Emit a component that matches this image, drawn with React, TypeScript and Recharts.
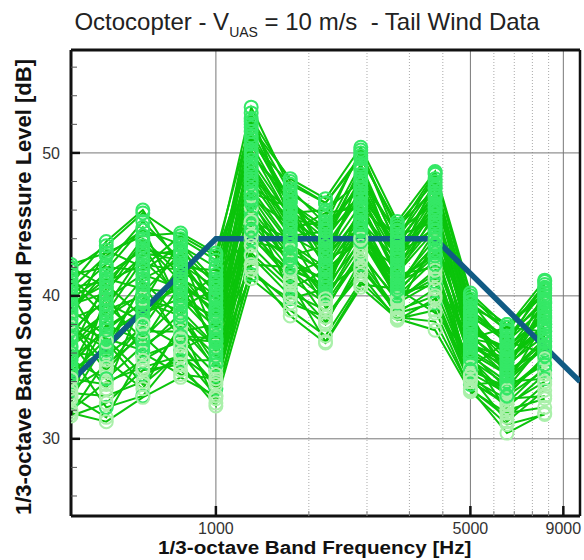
import { LineChart, Line, XAxis, YAxis, ReferenceLine } from 'recharts';

// 1/3-octave band centre frequencies [Hz]
const bands = [400, 500, 630, 800, 1000, 1250, 1600, 2000, 2500, 3150, 4000, 5000, 6300, 8000];

// band SPL [dB] for each tail-wind run
const run01 = [41.8, 43.5, 45.8, 44.0, 42.5, 53.2, 47.5, 45.0, 50.2, 44.0, 48.5, 40.0, 37.5, 40.8];
const run02 = [40.5, 42.8, 44.6, 43.6, 41.0, 52.4, 48.0, 46.5, 49.6, 45.0, 48.0, 39.2, 38.0, 40.2];
const run03 = [39.8, 41.5, 43.2, 42.8, 40.2, 51.5, 46.6, 44.2, 48.8, 43.6, 47.2, 38.5, 37.2, 39.5];
const run04 = [42.0, 40.6, 44.0, 41.5, 38.5, 50.6, 45.8, 46.0, 48.0, 44.5, 46.5, 39.6, 36.5, 41.0];
const run05 = [38.6, 43.2, 42.0, 44.2, 42.8, 49.8, 47.0, 43.0, 47.5, 42.8, 45.8, 37.8, 36.0, 38.8];
const run06 = [37.5, 39.8, 41.5, 40.5, 39.5, 49.0, 44.8, 45.2, 46.8, 44.0, 47.8, 38.0, 35.5, 38.0];
const run07 = [41.0, 38.5, 40.2, 43.0, 37.0, 48.2, 46.0, 42.0, 46.0, 41.8, 45.0, 37.0, 37.8, 37.5];
const run08 = [36.2, 41.0, 43.5, 39.5, 41.5, 47.5, 43.8, 44.0, 47.2, 43.2, 44.2, 36.5, 35.0, 39.0];
const run09 = [39.0, 37.2, 39.0, 41.8, 36.0, 46.8, 45.0, 41.0, 45.2, 42.5, 46.8, 36.0, 34.5, 37.0];
const run10 = [35.0, 39.5, 38.2, 42.2, 40.6, 46.0, 42.8, 43.5, 44.6, 40.8, 43.5, 38.8, 34.2, 36.5];
const run11 = [40.2, 36.0, 41.0, 38.5, 34.8, 45.2, 44.0, 40.0, 46.5, 41.2, 42.8, 35.5, 33.8, 38.2];
const run12 = [33.8, 38.0, 36.8, 40.8, 39.0, 44.5, 41.5, 42.5, 43.8, 42.0, 45.5, 35.0, 36.8, 36.0];
const run13 = [37.8, 34.8, 37.5, 37.5, 38.0, 43.8, 43.2, 39.2, 42.8, 39.8, 41.5, 34.6, 33.2, 35.5];
const run14 = [32.5, 40.2, 35.8, 36.8, 33.5, 43.0, 40.5, 41.8, 44.0, 40.2, 40.8, 37.2, 35.0, 37.8];
const run15 = [36.8, 33.5, 39.8, 39.0, 36.5, 42.2, 42.0, 38.5, 41.8, 39.2, 43.8, 34.0, 32.5, 35.0];
const run16 = [34.5, 37.0, 34.5, 35.5, 35.5, 41.5, 39.8, 40.5, 42.2, 38.8, 39.5, 33.8, 34.0, 34.2];
const run17 = [31.8, 35.5, 33.5, 38.0, 32.5, 41.2, 39.0, 37.2, 41.0, 38.5, 38.2, 33.5, 31.5, 33.8];
const run18 = [33.0, 31.5, 36.0, 34.5, 34.2, 44.8, 41.0, 36.8, 40.8, 40.5, 38.8, 35.8, 32.0, 32.8];
const run19 = [35.8, 32.2, 33.0, 36.2, 37.5, 50.0, 46.5, 44.8, 47.8, 43.0, 46.0, 36.8, 34.8, 36.2];
const run20 = [38.2, 35.2, 37.2, 34.8, 32.8, 47.0, 43.0, 39.8, 43.5, 41.5, 42.0, 33.5, 30.4, 31.8];
const run21 = [41.5, 42.0, 41.8, 43.5, 42.0, 51.0, 46.8, 42.8, 45.5, 40.5, 44.5, 39.8, 38.0, 40.0];
const run22 = [34.0, 36.5, 40.8, 37.0, 36.8, 45.8, 42.2, 41.2, 45.0, 39.5, 41.0, 35.2, 33.0, 34.8];
const run23 = [39.5, 40.8, 38.5, 41.2, 39.8, 52.8, 45.2, 43.8, 49.0, 42.2, 48.2, 37.5, 36.2, 39.5];
const run24 = [32.0, 34.0, 35.0, 35.8, 34.0, 42.8, 40.0, 38.0, 42.5, 39.0, 40.0, 34.2, 32.8, 33.0];
const run25 = [37.0, 38.8, 42.5, 40.0, 37.8, 48.8, 44.5, 45.8, 46.2, 43.8, 47.0, 38.2, 35.8, 37.5];
const run26 = [40.8, 43.8, 46.0, 42.0, 41.8, 44.0, 41.8, 40.8, 44.8, 41.0, 43.0, 36.2, 34.6, 40.5];
const run27 = [35.2, 37.8, 39.5, 43.8, 38.8, 47.8, 45.5, 42.2, 48.5, 44.2, 45.2, 37.0, 36.5, 38.5];
const run28 = [33.2, 33.0, 34.0, 37.8, 35.0, 46.2, 40.2, 39.0, 43.2, 38.4, 39.0, 33.4, 31.8, 32.2];
const run29 = [38.8, 41.8, 44.8, 39.2, 40.5, 50.8, 47.8, 46.5, 49.8, 44.8, 47.5, 39.0, 37.0, 39.8];
const run30 = [36.0, 35.8, 37.8, 41.5, 36.2, 45.0, 43.5, 41.5, 44.2, 40.0, 42.5, 36.0, 33.5, 36.8];
const run31 = [40.0, 42.2, 45.2, 42.5, 39.0, 52.0, 47.2, 45.5, 50.0, 44.6, 48.6, 39.5, 37.6, 40.6];
const run32 = [37.2, 40.5, 42.8, 43.2, 40.8, 51.2, 46.2, 44.6, 49.2, 43.4, 47.6, 38.6, 36.8, 39.2];
const run33 = [41.2, 39.2, 43.0, 42.5, 41.2, 49.5, 45.5, 43.5, 47.0, 42.0, 46.2, 37.5, 36.4, 38.6];
const run34 = [39.2, 41.2, 40.5, 40.2, 38.2, 48.5, 44.2, 44.5, 46.5, 41.5, 45.8, 37.2, 35.2, 37.2];
const run35 = [36.5, 38.2, 41.2, 42.5, 39.2, 47.2, 46.2, 42.5, 45.8, 42.8, 44.8, 38.4, 34.8, 39.6];
const run36 = [34.8, 36.2, 38.8, 39.8, 37.2, 46.5, 43.0, 41.8, 45.5, 40.8, 44.0, 36.6, 35.6, 38.0];
const run37 = [38.0, 37.0, 36.2, 38.8, 35.2, 45.5, 42.5, 40.2, 44.5, 40.2, 43.2, 35.8, 34.0, 36.4];
const run38 = [33.5, 35.0, 38.0, 36.5, 33.8, 44.2, 41.2, 39.5, 43.0, 39.6, 41.8, 35.0, 33.4, 35.6];
const run39 = [31.6, 32.5, 34.8, 35.2, 32.3, 43.5, 40.8, 38.2, 42.0, 38.8, 40.5, 34.5, 32.2, 34.5];
const run40 = [36.4, 39.0, 40.0, 37.2, 37.0, 49.2, 45.0, 43.2, 47.0, 42.6, 46.4, 36.4, 35.4, 37.8];
const run41 = [42.2, 43.0, 44.2, 44.4, 43.0, 52.2, 46.0, 44.0, 48.2, 43.0, 47.0, 38.8, 37.0, 40.4];
const run42 = [35.5, 34.2, 36.5, 38.2, 35.8, 46.8, 42.0, 40.6, 43.8, 41.0, 42.2, 34.8, 33.6, 35.2];
const run43 = [32.8, 36.8, 33.8, 36.0, 33.0, 41.8, 39.5, 38.5, 41.5, 38.3, 39.8, 34.0, 32.4, 34.0];
const run44 = [37.6, 36.4, 39.2, 40.6, 36.8, 48.0, 44.2, 42.8, 46.4, 41.6, 44.6, 37.6, 36.2, 38.4];
const run45 = [39.4, 40.2, 43.8, 41.0, 38.8, 50.2, 45.4, 44.8, 47.6, 43.4, 46.2, 38.2, 35.8, 39.0];
const run46 = [34.2, 33.8, 35.5, 37.0, 34.5, 45.2, 41.8, 39.8, 44.0, 39.8, 41.2, 34.4, 31.2, 33.4];
const run47 = [31.8, 31.2, 32.9, 34.3, 33.0, 42.0, 38.6, 36.7, 40.6, 38.4, 37.6, 33.3, 31.0, 31.7];
const run48 = [40.6, 41.0, 42.2, 41.8, 40.0, 51.8, 48.2, 46.8, 50.4, 45.2, 48.7, 40.2, 37.8, 41.1];
const run49 = [38.4, 39.4, 37.0, 39.6, 38.6, 47.2, 43.6, 42.0, 45.0, 40.6, 43.6, 36.8, 34.4, 36.8];
const run50 = [35.6, 37.6, 39.6, 38.6, 36.4, 44.6, 42.6, 41.0, 44.6, 40.4, 42.8, 35.6, 33.0, 35.8];

const runs = [
  run01, run02, run03, run04, run05, run06, run07, run08, run09, run10,
  run11, run12, run13, run14, run15, run16, run17, run18, run19, run20,
  run21, run22, run23, run24, run25, run26, run27, run28, run29, run30,
  run31, run32, run33, run34, run35, run36, run37, run38, run39, run40,
  run41, run42, run43, run44, run45, run46, run47, run48, run49, run50,
];
// runs drawn with pale markers
const paleRuns = [13, 15, 17, 18, 20, 24, 28, 38, 39, 43, 46, 47];

// noise limit envelope
const limitFreq = [400, 1000, 4000, 10000];
const limitLevel = [34, 44, 44, 34];

const xMajorTicks = [1000, 5000, 9000];
const xMinorTicks = [1800, 2600, 3400, 4200, 5800, 6600, 7400, 8200];
const yMajorTicks = [30, 40, 50];
const yMinorTicks = [26, 28, 32, 34, 36, 38, 42, 44, 46, 48, 52, 54, 56];

const X_DOMAIN: [number, number] = [400, 10000];
const Y_DOMAIN: [number, number] = [24.6, 57.2];
const FONT = 'Arial, "Liberation Sans", Helvetica, sans-serif';

const limitData = limitFreq.map((f, i) => ({ f, spl: limitLevel[i] }));
const runData = runs.map((r) => bands.map((f, i) => ({ f, spl: r[i] })));

function FreqTick({ x, y, payload }: any) {
  const major = xMajorTicks.includes(payload.value);
  return (
    <g>
      <line
        x1={x}
        x2={x}
        y1={y}
        y2={y - (major ? 10 : 5)}
        stroke={major ? '#111' : '#888'}
        strokeWidth={major ? 2.5 : 1}
      />
      {major && (
        <text x={x} y={y + 18} textAnchor="middle" fontSize={16} fill="#333" fontFamily={FONT}>
          {payload.value}
        </text>
      )}
    </g>
  );
}

function LevelTick({ x, y, payload }: any) {
  const major = yMajorTicks.includes(payload.value);
  return (
    <g>
      <line
        x1={x}
        x2={x + (major ? 9 : 6)}
        y1={y}
        y2={y}
        stroke={major ? '#111' : '#555'}
        strokeWidth={major ? 2.5 : 1}
      />
      {major && (
        <text x={x - 11} y={y} dy="0.35em" textAnchor="end" fontSize={16} fill="#333" fontFamily={FONT}>
          {payload.value}
        </text>
      )}
    </g>
  );
}

export default function App() {
  return (
    <div style={{ position: 'absolute', left: 0, top: 0, width: 584, height: 560, background: '#fff' }}>
      <LineChart width={584} height={560} margin={{ top: 50, right: 4, bottom: 0, left: 0 }}>
        <XAxis
          dataKey="f"
          type="number"
          scale="log"
          domain={X_DOMAIN}
          allowDataOverflow
          ticks={[...xMajorTicks, ...xMinorTicks]}
          interval={0}
          tick={<FreqTick />}
          tickLine={false}
          tickSize={0}
          tickMargin={0}
          height={44}
          axisLine={{ stroke: '#111', strokeWidth: 3 }}
        />
        <YAxis
          dataKey="spl"
          type="number"
          domain={Y_DOMAIN}
          allowDataOverflow
          ticks={[...yMajorTicks, ...yMinorTicks]}
          interval={0}
          tick={<LevelTick />}
          tickLine={false}
          tickSize={0}
          tickMargin={0}
          width={71}
          axisLine={{ stroke: '#111', strokeWidth: 3 }}
        />
        {xMinorTicks.map((f) => (
          <ReferenceLine key={'xm' + f} x={f} stroke="#aaa" strokeWidth={1} strokeDasharray="1 2" />
        ))}
        {xMajorTicks.map((f) => (
          <ReferenceLine key={'xM' + f} x={f} stroke="#777" strokeWidth={1} />
        ))}
        {yMajorTicks.map((v) => (
          <ReferenceLine key={'yM' + v} y={v} stroke="#777" strokeWidth={1} />
        ))}
        <ReferenceLine y={Y_DOMAIN[1]} stroke="#111" strokeWidth={3} />
        <ReferenceLine x={X_DOMAIN[1]} stroke="#111" strokeWidth={2.5} />

        {runData.map((d, i) => {
          const pale = paleRuns.includes(i + 1);
          return (
            <Line
              key={'run' + i}
              data={d}
              dataKey="spl"
              stroke="#0bc40b"
              strokeWidth={2}
              dot={{ r: 6.5, stroke: pale ? '#aaf0aa' : '#35e866', strokeWidth: 2, fill: 'none' }}
              isAnimationActive={false}
            />
          );
        })}
        <Line
          data={limitData}
          dataKey="spl"
          stroke="#115b84"
          strokeWidth={5.5}
          dot={false}
          isAnimationActive={false}
        />
      </LineChart>

      <div
        style={{
          position: 'absolute',
          left: 0,
          width: 614,
          top: 8,
          lineHeight: '28px',
          textAlign: 'center',
          fontFamily: FONT,
          fontSize: 24,
          color: '#222',
          whiteSpace: 'pre',
        }}
      >
        Octocopter - V
        <span style={{ fontSize: 14, position: 'relative', top: 7 }}>UAS</span> = 10 m/s  - Tail Wind Data
      </div>
      <div
        style={{
          position: 'absolute',
          left: 0,
          width: 630,
          top: 540,
          lineHeight: '17px',
          textAlign: 'center',
          fontFamily: FONT,
          fontSize: 17.5,
          fontWeight: 'bold',
          color: '#111',
          whiteSpace: 'nowrap',
        }}
      >
        <span style={{ display: 'inline-block', transform: 'scaleX(1.18)' }}>1/3-octave Band Frequency [Hz]</span>
      </div>
      <div
        style={{
          position: 'absolute',
          left: 24,
          top: 287,
          transform: 'translate(-50%, -50%) rotate(-90deg)',
          fontFamily: FONT,
          fontSize: 22,
          fontWeight: 'bold',
          color: '#111',
          whiteSpace: 'nowrap',
        }}
      >
        1/3-octave Band Sound Pressure Level [dB]
      </div>
    </div>
  );
}
